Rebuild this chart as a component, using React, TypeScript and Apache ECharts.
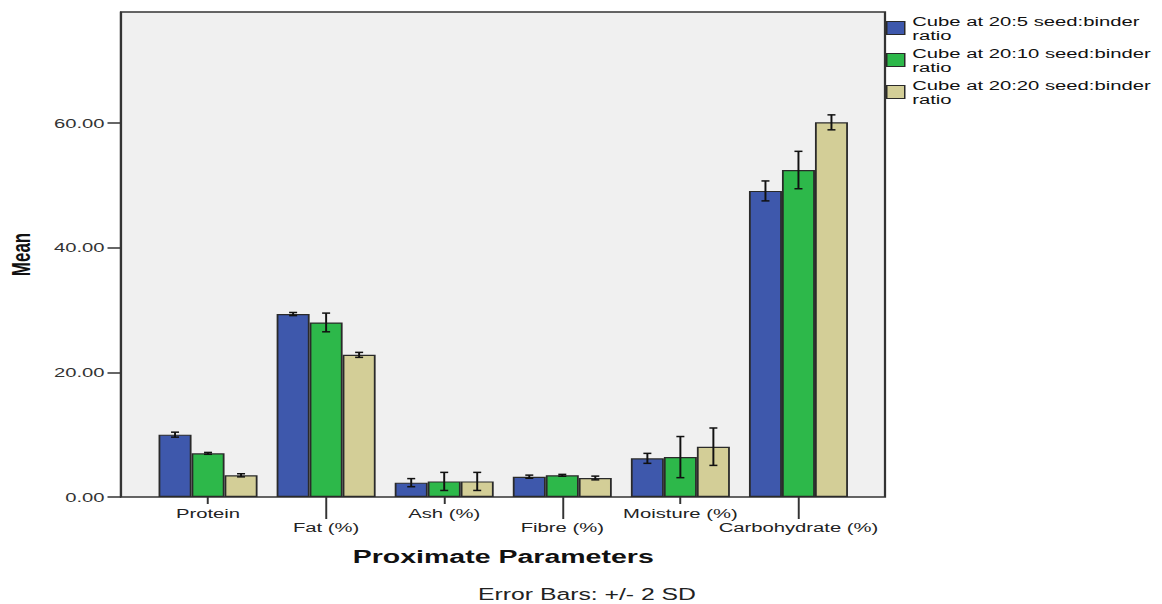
import React, { useEffect, useRef } from "react";
import * as echarts from "echarts";

const categories = ["Protein", "Fat (%)", "Ash (%)", "Fibre (%)", "Moisture (%)", "Carbohydrate (%)"];
const seriesNames = [
  "Cube at 20:5 seed:binder ratio",
  "Cube at 20:10 seed:binder ratio",
  "Cube at 20:20 seed:binder ratio",
];
const means5 = [10.0, 29.35, 2.3, 3.26, 6.2, 49.1];
const means10 = [7.0, 28.0, 2.5, 3.48, 6.4, 52.45];
const means20 = [3.48, 22.8, 2.5, 3.05, 8.07, 60.1];
const err5 = [0.4, 0.25, 0.65, 0.25, 0.8, 1.6];
const err10 = [0.15, 1.5, 1.45, 0.15, 3.3, 3.0];
const err20 = [0.25, 0.4, 1.45, 0.3, 3.0, 1.2];
const yTicks = [0, 20, 40, 60];

const colors = ["#3e58ac", "#2db84a", "#d3ce97"];
const FONT = "'Liberation Sans', Arial, sans-serif";
// the reference is horizontally stretched; the chart is drawn narrow and scaled in x
const SX = 1.5;
const W = 1162 / SX;
const BAR_W = 33 / SX;

export default function App() {
  const ref = useRef<HTMLDivElement>(null);
  useEffect(() => {
    document.body.style.margin = "0";
    const chart = echarts.init(ref.current!, null, { renderer: "svg" });
    const means = [means5, means10, means20];
    const errs = [err5, err10, err20];
    const offsets = [-BAR_W, 0, BAR_W];

    const barSeries = means.map((m, i) => ({
      type: "bar",
      name: seriesNames[i],
      data: m,
      barWidth: BAR_W,
      barGap: "0%",
      itemStyle: { color: colors[i], borderColor: "#2a2a2a", borderWidth: 1.2 },
      z: 2,
    }));

    const errSeries = means.map((m, i) => ({
      type: "custom",
      name: "err" + i,
      data: m.map((v, k) => [k, v - errs[i][k], v + errs[i][k]]),
      encode: { x: 0, y: [1, 2] },
      z: 10,
      silent: true,
      renderItem: (params: any, api: any) => {
        const xi = api.value(0);
        const lo = api.coord([xi, api.value(1)]);
        const hi = api.coord([xi, api.value(2)]);
        const x = lo[0] + offsets[i];
        const cap = 4 / SX;
        const st = { stroke: "#111", lineWidth: 1.5 };
        return {
          type: "group",
          children: [
            { type: "line", shape: { x1: x, y1: lo[1], x2: x, y2: hi[1] }, style: { stroke: "#111", lineWidth: 1.3 } },
            { type: "line", shape: { x1: x - cap, y1: lo[1], x2: x + cap, y2: lo[1] }, style: st },
            { type: "line", shape: { x1: x - cap, y1: hi[1], x2: x + cap, y2: hi[1] }, style: st },
          ],
        };
      },
    }));

    chart.setOption({
      animation: false,
      textStyle: { fontFamily: FONT },
      grid: {
        left: 149 / SX,
        right: 305 / SX,
        top: 12,
        bottom: 107,
        containLabel: false,
        outerBoundsMode: "none",
      },
      legend: {
        orient: "vertical",
        left: 886 / SX,
        top: 14,
        data: seriesNames,
        itemWidth: 18 / SX,
        itemHeight: 13,
        itemGap: 4,
        icon: "rect",
        itemStyle: { borderColor: "#2a2a2a", borderWidth: 1 },
        textStyle: { fontSize: 13.5, lineHeight: 14, color: "#111", fontFamily: FONT },
        formatter: (name: string) => name.replace(" ratio", "\nratio"),
        padding: 0,
      },
      graphic: [
        {
          type: "rect",
          z: -10,
          shape: { x: 121 / SX, y: 12, width: 764 / SX, height: 485 },
          style: { fill: "#f0f0f0", stroke: "#333", lineWidth: 1.5 },
        },
        {
          type: "text",
          x: 587 / SX,
          y: 594,
          style: {
            text: "Error Bars: +/- 2 SD",
            fontSize: 16.5,
            fill: "#222",
            fontFamily: FONT,
            align: "center",
            verticalAlign: "middle",
          },
        },
      ],
      xAxis: [
        {
          type: "category",
          data: categories,
          axisLine: { show: false },
          axisTick: {
            show: true,
            alignWithLabel: true,
            length: 7,
            interval: (idx: number) => idx % 2 === 0,
            lineStyle: { color: "#333", width: 1.3 },
          },
          axisLabel: {
            interval: 0,
            margin: 9,
            fontSize: 13.5,
            lineHeight: 14,
            color: "#222",
            fontFamily: FONT,
            formatter: (v: string, idx: number) => (idx % 2 === 1 ? "\n" + v : v),
          },
          name: "Proximate Parameters",
          nameLocation: "middle",
          nameGap: 50,
          nameTextStyle: { fontSize: 19, fontWeight: "bold", color: "#111", fontFamily: FONT, verticalAlign: "top" },
        },
        {
          type: "category",
          data: categories,
          position: "bottom",
          axisLine: { show: false },
          axisLabel: { show: false },
          axisTick: {
            show: true,
            alignWithLabel: true,
            length: 22,
            interval: (idx: number) => idx % 2 === 1,
            lineStyle: { color: "#333", width: 1.3 },
          },
        },
      ],
      yAxis: {
        type: "value",
        min: 0,
        max: 77.8,
        interval: 20,
        offset: 28 / SX,
        splitLine: { show: false },
        axisLine: { show: true, lineStyle: { color: "#333", width: 1.2 } },
        axisTick: {
          show: true,
          length: 9,
          lineStyle: { color: "#333", width: 1.5 },
          customValues: yTicks,
        },
        axisLabel: {
          margin: 11,
          fontSize: 13.5,
          color: "#333",
          fontFamily: FONT,
          customValues: yTicks,
          formatter: (v: number) => v.toFixed(2),
        },
        name: "Mean",
        nameLocation: "middle",
        nameGap: 58,
        nameRotate: 90,
        nameTextStyle: {
          fontSize: 17,
          fontWeight: "bold",
          color: "#111",
          fontFamily: FONT,
        },
      },
      series: [...barSeries, ...errSeries],
    });
    return () => chart.dispose();
  }, []);
  return (
    <div
      ref={ref}
      style={{ width: W, height: 604, transform: `scaleX(${SX})`, transformOrigin: "0 0" }}
    />
  );
}
